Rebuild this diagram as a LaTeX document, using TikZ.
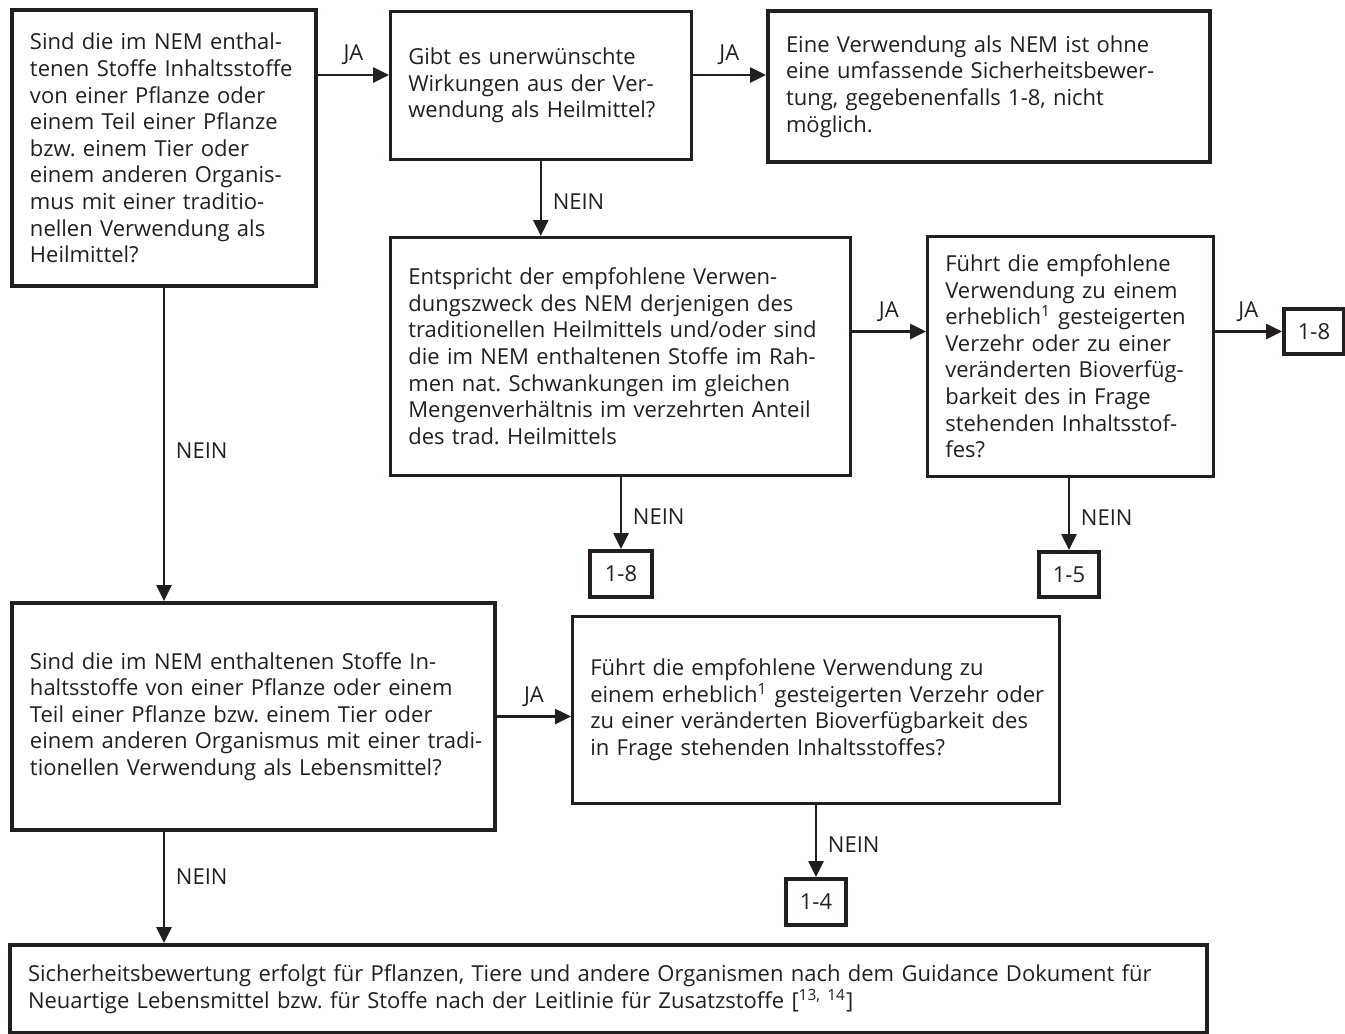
\documentclass[tikz,border=0pt]{standalone}
\usepackage{fontspec}
\setmainfont{Open Sans}
\usetikzlibrary{arrows.meta}
\definecolor{ink}{HTML}{231F20}
\tikzset{
  box/.style={draw=ink,text=ink,line width=1.3pt,anchor=north west,align=left,inner xsep=9pt,
    font=\fontsize{11pt}{13.3pt}\selectfont,execute at begin node={\frenchspacing\rightskip=0pt minus 40pt}},
  heavy/.style={box,line width=2pt},
  result/.style={draw=ink,text=ink,line width=2pt,anchor=north west,inner sep=0pt,
    font=\fontsize{11pt}{13.3pt}\selectfont},
  arr/.style={draw=ink,line width=1.3pt,-{Triangle[length=8pt,width=7.5pt]}},
  lab/.style={text=ink,font=\fontsize{11pt}{13.3pt}\selectfont}
}
\begin{document}
\begin{tikzpicture}[x=0.5pt,y=-0.5pt]
  \useasboundingbox (0,0) rectangle (1345,1034);
  \coordinate (jarow) at (0,75);
  \node[heavy,text width=134pt,minimum height=138pt] (A) at (10,8)
    {Sind die im NEM enthal-\\tenen Stoffe Inhaltsstoffe\\von einer Pflanze oder\\einem Teil einer Pflanze\\bzw. einem Tier oder\\einem anderen Organis-\\mus mit einer traditio-\\nellen Verwendung als\\Heilmittel?};
  \node[box,text width=132.5pt,minimum height=74pt] (B) at (389,10)
    {Gibt es unerwünschte\\Wirkungen aus der Ver-\\wendung als Heilmittel?};
  \node[heavy,text width=203pt,minimum height=75.5pt] (C) at (766,9)
    {Eine Verwendung als NEM ist ohne\\eine umfassende Sicherheitsbewer-\\tung, gegebenenfalls 1-8, nicht\\möglich.};
  \node[box,text width=212pt,minimum height=119pt] (D) at (389,236)
    {Entspricht der empfohlene Verwen-\\dungszweck des NEM derjenigen des\\traditionellen Heilmittels und/oder sind\\die im NEM enthaltenen Stoffe im Rah-\\men nat. Schwankungen im gleichen\\Mengenverhältnis im verzehrten Anteil\\des trad. Heilmittels};
  \node[box,text width=125pt,minimum height=120pt] (E) at (926,235)
    {Führt die empfohlene\\Verwendung zu einem\\erheblich\textsuperscript{1} gesteigerten\\Verzehr oder zu einer\\veränderten Bioverfüg-\\barkeit des in Frage\\stehenden Inhaltsstof-\\fes?};
  \node[result,minimum width=30pt,minimum height=22.5pt] (R1) at (1282,307) {1-8};
  \node[result,minimum width=31pt,minimum height=23pt] (R2) at (588,549) {1-8};
  \node[result,minimum width=30pt,minimum height=22.5pt] (R3) at (1037,550) {1-5};
  \node[heavy,text width=223.5pt,minimum height=113.5pt] (F) at (10,601)
    {Sind die im NEM enthaltenen Stoffe In-\\haltsstoffe von einer Pflanze oder einem\\Teil einer Pflanze bzw. einem Tier oder\\einem anderen Organismus mit einer tradi-\\tionellen Verwendung als Lebensmittel?};
  \node[box,text width=225.5pt,minimum height=93.5pt] (G) at (571,615)
    {Führt die empfohlene Verwendung zu\\einem erheblich\textsuperscript{1} gesteigerten Verzehr oder\\zu einer veränderten Bioverfügbarkeit des\\in Frage stehenden Inhaltsstoffes?};
  \node[result,minimum width=30pt,minimum height=23pt] (R4) at (784,877) {1-4};
  \node[heavy,text width=580.5pt,minimum height=44pt] (H) at (8,943)
    {Sicherheitsbewertung erfolgt für Pflanzen, Tiere und andere Organismen nach dem Guidance Dokument für\\Neuartige Lebensmittel bzw. für Stoffe nach der Leitlinie für Zusatzstoffe [\textsuperscript{13, 14}]};
  \draw[arr] (A.east |- jarow) -- (B.west |- jarow) node[lab,midway,above=1pt] {JA};
  \draw[arr] (B.east |- jarow) -- (C.west |- jarow) node[lab,midway,above=1pt] {JA};
  \draw[arr] (B.south) -- (B.south |- D.north) node[lab,pos=.55,right=2pt] {NEIN};
  \draw[arr] (D.east |- R1.west) -- (E.west |- R1.west) node[lab,midway,above=1pt] {JA};
  \draw[arr] (E.east |- R1.west) -- (R1.west) node[lab,midway,above=1pt] {JA};
  \draw[arr] (D.south -| R2.north) -- (R2.north) node[lab,pos=.55,right=2pt] {NEIN};
  \draw[arr] (E.south -| R3.north) -- (R3.north) node[lab,pos=.55,right=2pt] {NEIN};
  \draw[arr] (A.south) -- (A.south |- F.north) node[lab,pos=.52,right=2pt] {NEIN};
  \draw[arr] (F.east) -- (F.east -| G.west) node[lab,midway,above=1pt] {JA};
  \draw[arr] (G.south -| R4.north) -- (R4.north) node[lab,pos=.55,right=2pt] {NEIN};
  \draw[arr] (F.south -| A.south) -- (H.north -| A.south) node[lab,pos=.4,right=2pt] {NEIN};
\end{tikzpicture}
\end{document}
